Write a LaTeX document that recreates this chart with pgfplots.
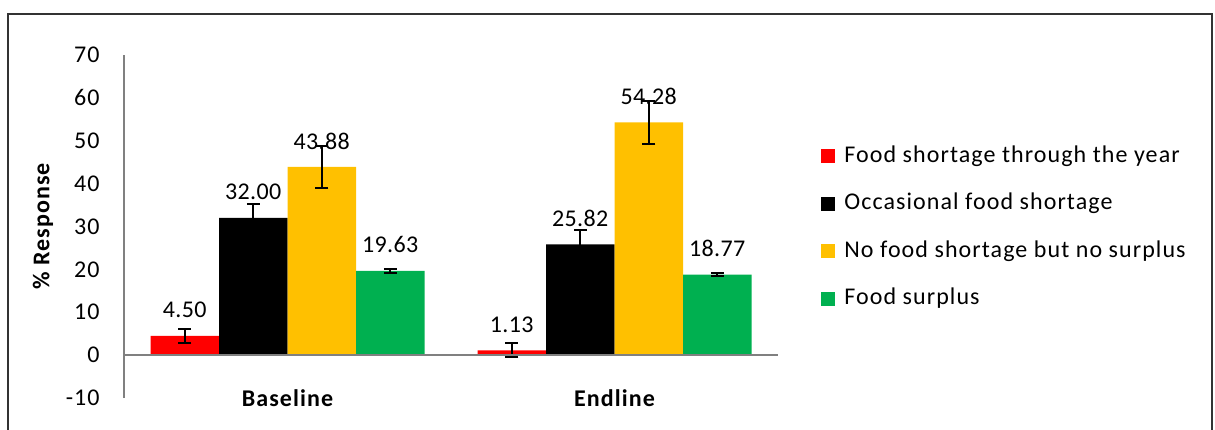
\documentclass[border=0pt]{standalone}
\usepackage{pgfplots}
\pgfplotsset{compat=1.18}
\usepackage{pgfplotstable}
\usepackage{fontspec}
\setmainfont{Carlito}[LetterSpace=4.5]
\newfontfamily\numfont{Carlito}[LetterSpace=1.5]
\definecolor{cred}{HTML}{FF0000}
\definecolor{cyel}{HTML}{FFC000}
\definecolor{cgreen}{HTML}{00B050}
\pgfplotstableread{
x y e
0 4.50 1.65
1 1.13 1.6
}\tred
\pgfplotstableread{
x y e
0 32.00 3.2
1 25.82 3.3
}\tblack
\pgfplotstableread{
x y e
0 43.88 5.0
1 54.28 5.1
}\tyel
\pgfplotstableread{
x y e
0 19.63 0.4
1 18.77 0.4
}\tgreen
\newcommand{\fs}{\fontsize{12}{14.4}\selectfont}
\begin{document}
\begin{tikzpicture}
\useasboundingbox (0,0) rectangle (607.5pt,214.5pt);
\draw[line width=0.8pt, black!80] (4pt,-10pt) -- (4pt,207.5pt) -- (606pt,207.5pt) -- (606pt,-10pt);
\begin{axis}[
  at={(62pt,15.5pt)}, anchor=south west,
  scale only axis, width=327pt, height=171.5pt,
  ymin=-10, ymax=70, ytick={-10,0,...,70},
  xmin=-0.5, xmax=1.5, xtick={0,1}, xticklabels={Baseline,Endline},
  axis y line*=left, axis x line*=bottom,
  x axis line style={opacity=0},
  y axis line style={gray, line width=1pt},
  tick style={draw=none},
  /pgf/number format/assume math mode=true,
  yticklabel style={font=\fs, inner sep=0pt, xshift=-12pt},
  xticklabel style={font=\fs\bfseries, anchor=center, yshift=4pt},
  every axis y label/.style={at={(axis description cs:-0.1239,0.5)}, anchor=center, rotate=90},
  ylabel={\% Response}, ylabel style={font=\fs\bfseries},
  ybar=0pt, bar width=34.25pt,
  nodes near coords,
  nodes near coords style={font=\fs\numfont, inner sep=0pt, yshift=8.7pt,
    /pgf/number format/.cd, fixed, fixed zerofill, precision=2, assume math mode=true},
  error bars/y dir=both, error bars/y explicit,
  error bars/error bar style={black, line width=1pt},
  error bars/error mark options={black, line width=1pt, mark size=3.25pt, rotate=90},
  legend image code/.code={\draw[#1,draw=none] (0pt,-3.5pt) rectangle (7pt,3.5pt);},
  legend style={at={(rel axis cs:1.0657,0.7405)}, anchor=north west, draw=none, fill=none,
    inner sep=0pt, font=\fs, row sep=11.75pt,
    nodes={inner sep=0pt, text depth=3pt, text height=9pt},
    /tikz/every odd column/.style={column sep=4.5pt}},
  legend cell align=left,
]
\addplot[fill=cred, draw=none] table[x=x, y=y, y error=e] {\tred};
\addplot[fill=black, draw=none] table[x=x, y=y, y error=e] {\tblack};
\addplot[fill=cyel, draw=none] table[x=x, y=y, y error=e] {\tyel};
\addplot[fill=cgreen, draw=none] table[x=x, y=y, y error=e] {\tgreen};
\draw[gray, line width=1pt] (axis cs:-0.5,0) -- (axis cs:1.5,0);
\legend{Food shortage through the year, Occasional food shortage, No food shortage but no surplus, Food surplus}
\end{axis}
\end{tikzpicture}
\end{document}
